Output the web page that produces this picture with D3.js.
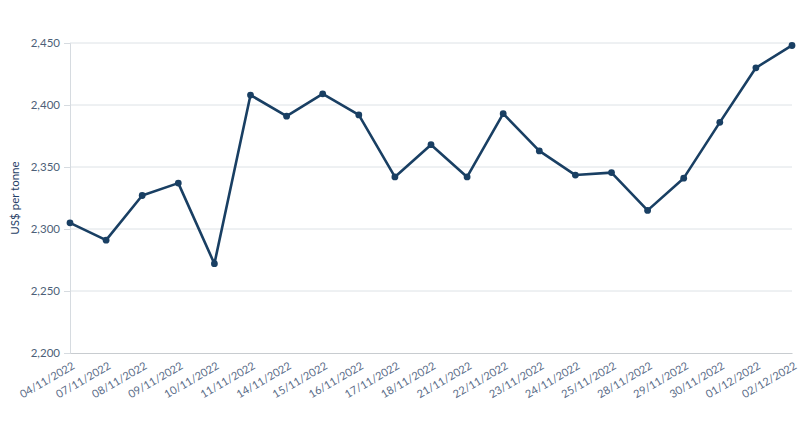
<!DOCTYPE html>
<html><head><meta charset="utf-8">
<script src="https://cdn.jsdelivr.net/npm/d3@7"></script>
<style>body{margin:0;background:#fff;font-family:Lato,"Open Sans",sans-serif;}</style>
</head><body><svg id="c" width="810" height="427"></svg>
<script>
const dates = ["04/11/2022","07/11/2022","08/11/2022","09/11/2022","10/11/2022","11/11/2022","14/11/2022","15/11/2022","16/11/2022","17/11/2022","18/11/2022","21/11/2022","22/11/2022","23/11/2022","24/11/2022","25/11/2022","28/11/2022","29/11/2022","30/11/2022","01/12/2022","02/12/2022"];
const prices = [2305,2291,2327,2337,2272,2408,2391,2409,2392,2342,2368,2342,2393,2363,2343.5,2345.5,2315,2341,2386,2430,2448];
const yTicks = [2200,2250,2300,2350,2400,2450];
const yTitle = "US$ per tonne";

const svg = d3.select("#c");
const m = {l:70, r:18, t:43, b:74};
const W = 810, H = 427;
const x = d3.scalePoint().domain(dates).range([m.l, W - m.r]);
const y = d3.scaleLinear().domain([2200,2450]).range([H - m.b, m.t]);

// gridlines
svg.append("g").selectAll("line").data(yTicks.slice(1)).join("line")
  .attr("x1", m.l).attr("x2", W - m.r)
  .attr("y1", d=>y(d)).attr("y2", d=>y(d))
  .attr("stroke","#dde2e6").attr("stroke-width",1);

// y axis
const ya = svg.append("g").attr("transform",`translate(${m.l},0)`)
  .call(d3.axisLeft(y).tickValues(yTicks).tickFormat(d3.format(",")).tickSize(6).tickPadding(4));
ya.select(".domain").attr("stroke","#d6dbe0");
ya.selectAll(".tick line").attr("stroke","#d6dbe0");
ya.selectAll("text").attr("fill","#4d5f78").style("font-size","11.5px").style("font-family","Lato,sans-serif");

// x axis
const xa = svg.append("g").attr("transform",`translate(0,${H - m.b})`)
  .call(d3.axisBottom(x).tickSize(0).tickPadding(8));
xa.select(".domain").attr("stroke","#c8ccd0");
xa.selectAll("text").attr("fill","#5a6c88").style("font-size","11px").style("font-family","Lato,sans-serif")
  .attr("text-anchor","end").attr("x",0).attr("y",0).attr("dy",0)
  .attr("transform","translate(5,15) rotate(-30)");

// y title
svg.append("text").attr("transform",`translate(19,${(m.t + H - m.b)/2}) rotate(-90)`)
  .attr("text-anchor","middle").attr("fill","#1f4066")
  .style("font-size","11.5px").style("font-family","Lato,sans-serif").text(yTitle);

// line
const line = d3.line().x((d,i)=>x(dates[i])).y(d=>y(d));
svg.append("path").datum(prices).attr("d",line)
  .attr("fill","none").attr("stroke","#193f63").attr("stroke-width",2.6).attr("stroke-linejoin","round");
svg.append("g").selectAll("circle").data(prices).join("circle")
  .attr("cx",(d,i)=>x(dates[i])).attr("cy",d=>y(d)).attr("r",3.4).attr("fill","#193f63");
</script></body></html>
